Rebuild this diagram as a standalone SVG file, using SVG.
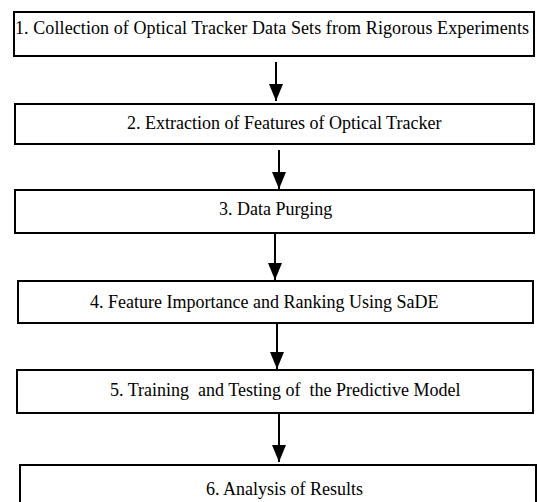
<svg xmlns="http://www.w3.org/2000/svg" width="538" height="502" viewBox="0 0 538 502">
<defs>
<style>
.box{fill:#fff;stroke:#000;stroke-width:2}
.t{font-family:'Liberation Serif','Times New Roman','DejaVu Serif',serif;font-size:18px;fill:#000}
.c{stroke:#000;stroke-width:2;fill:none}
</style>
<marker id="ah" viewBox="0 0 17 14" refX="17" refY="7" markerWidth="17" markerHeight="14" markerUnits="userSpaceOnUse" orient="auto">
<path d="M0,0 L17,7 L0,14 Z" fill="#000"/>
</marker>
</defs>
<rect width="538" height="502" fill="#fff"/>
<g id="connectors">
<line class="c" x1="276" y1="62" x2="276" y2="101" marker-end="url(#ah)"/>
<line class="c" x1="279" y1="150" x2="279" y2="189" marker-end="url(#ah)"/>
<line class="c" x1="275" y1="234" x2="275" y2="280" marker-end="url(#ah)"/>
<line class="c" x1="277" y1="324" x2="277" y2="369" marker-end="url(#ah)"/>
<line class="c" x1="279" y1="414" x2="279" y2="462" marker-end="url(#ah)"/>
</g>
<g id="n1"><rect class="box" x="14" y="12" width="520" height="44"/><text class="t" font-family="Liberation Serif, serif" x="15" y="34" textLength="514" lengthAdjust="spacing">1. Collection of Optical Tracker Data Sets from Rigorous Experiments</text></g>
<g id="n2"><rect class="box" x="15" y="104" width="519" height="40"/><text class="t" font-family="Liberation Serif, serif" x="127" y="129">2. Extraction of Features of Optical Tracker</text></g>
<g id="n3"><rect class="box" x="15" y="190" width="519" height="43"/><text class="t" font-family="Liberation Serif, serif" x="219" y="215">3. Data Purging</text></g>
<g id="n4"><rect class="box" x="18" y="281" width="515" height="42"/><text class="t" font-family="Liberation Serif, serif" x="90" y="308">4. Feature Importance and Ranking Using SaDE</text></g>
<g id="n5"><rect class="box" x="17" y="370" width="516" height="43"/><text class="t" font-family="Liberation Serif, serif" x="110" y="396" xml:space="preserve">5. Training  and Testing of  the Predictive Model</text></g>
<g id="n6"><rect class="box" x="20" y="465" width="516" height="50"/><text class="t" font-family="Liberation Serif, serif" x="206" y="495">6. Analysis of Results</text></g>
</svg>
